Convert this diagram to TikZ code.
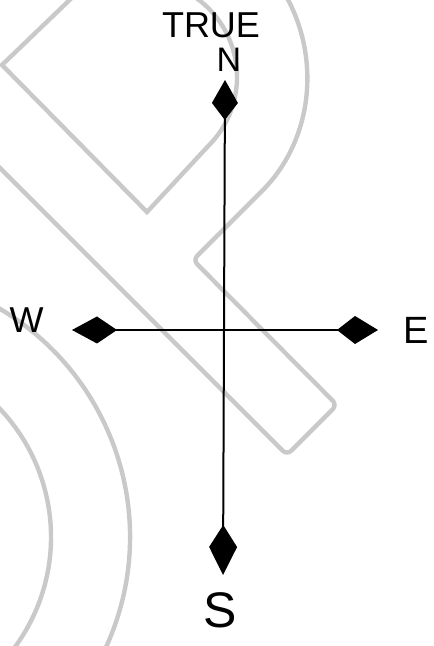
\documentclass[tikz,border=0pt]{standalone}
\usepackage{fontspec}
\setmainfont{Liberation Sans}
\usetikzlibrary{arrows.meta,positioning}
\definecolor{markgray}{HTML}{C9C9C9}

\begin{document}
\begin{tikzpicture}[
  x=0.5pt, y=0.5pt,
  watermark/.style={draw=markgray,line width=2.2pt},
  axisline/.style={line width=1pt},
  lbl/.style={inner sep=0pt},
  capsize/.style={font=\fontsize{#1}{#1}\selectfont}
]
\useasboundingbox (0,0) rectangle (433,646);
\begin{scope}
\clip (0,0) rectangle (433,646);
\draw[watermark] (80,656) -- (2,581) -- (147,434) -- (208.6,500.4) arc[start angle=-45,end angle=60,radius=97];
\draw[watermark,rounded corners=3pt] (-20,498) -- (287,191) -- (337,241) -- (193,386) -- (258,451) arc[start angle=-45,end angle=40,radius=167];
\draw[watermark] (-135,109) ++(60:186) arc[start angle=60,end angle=-60,radius=186];
\draw[watermark] (-135,109) ++(70:265) arc[start angle=70,end angle=-70,radius=265];
\end{scope}
\coordinate (ntip) at (225,566);
\coordinate (stip) at (223,71);
\coordinate (wtip) at (72,316);
\coordinate (etip) at (378,316);
\draw[axisline,{Kite[length=20pt,width=13pt,inset=8.5pt]}-{Kite[length=25pt,width=14pt,inset=11pt]}] (ntip) -- (stip);
\draw[axisline,{Kite[length=22.5pt,width=13.5pt,inset=10pt]}-{Kite[length=20.5pt,width=14pt,inset=9pt]}] (wtip) -- (etip);
\node[lbl,capsize=17,above=4pt of ntip,xshift=2pt] (nlbl) {N};
\node[lbl,capsize=18,above=5pt of nlbl,xshift=-9pt] (truelbl) {TRUE};
\node[lbl,capsize=18,left=14pt of wtip,yshift=5pt] (wlbl) {W};
\node[lbl,capsize=19,right=12.5pt of etip] (elbl) {E};
\node[lbl,capsize=25,below=8.5pt of stip,xshift=-1.5pt] (slbl) {S};
\end{tikzpicture}
\end{document}
